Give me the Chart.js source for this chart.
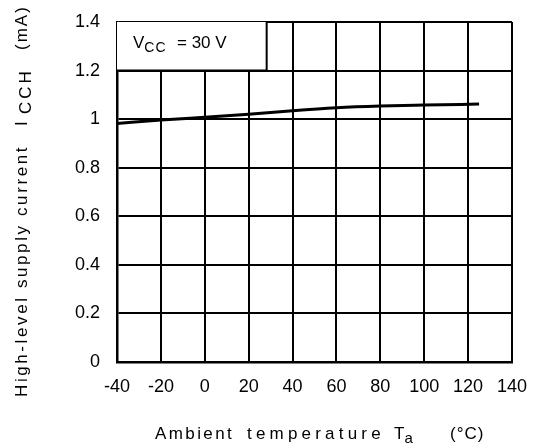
<!DOCTYPE html>
<html>
<head>
<meta charset="utf-8">
<script src="https://cdn.jsdelivr.net/npm/chart.js@4/dist/chart.umd.min.js"></script>
<style>
    body { margin: 0; background: #fff; }
    #wrap { width: 539px; height: 448px; }
</style>
</head>
<body>
<div id="wrap"><canvas id="grafico" width="539" height="448"></canvas></div>
<script>
// datos
var temperaturas = [-40, -20, 0, 20, 40, 60, 80, 100, 125];
var corriente = [0.982, 0.996, 1.008, 1.02, 1.035, 1.047, 1.054, 1.058, 1.062];
var ticksX = [-40, -20, 0, 20, 40, 60, 80, 100, 120, 140];
var ticksY = [0, 0.2, 0.4, 0.6, 0.8, 1, 1.2, 1.4];

var fuente = '"Liberation Sans", Arial, sans-serif';

// dibuja un texto con partes en subindice, devuelve x final
function textoPartes(ctx, partes, x, y) {
    partes.forEach(function (p) {
        if (p.at !== undefined) x = p.at;
        ctx.font = p.size + 'px ' + fuente;
        ctx.letterSpacing = (p.sp || 0) + 'px';
        ctx.fillText(p.t, x, y + (p.dy || 0));
        x += ctx.measureText(p.t).width + (p.gap || 0);
    });
    return x;
}

var titulos = {
    id: 'titulos',
    beforeDatasetsDraw: function (chart) {
        var ctx = chart.ctx;
        var a = chart.chartArea;
        var xs = chart.scales.x, ys = chart.scales.y;
        // caja de condicion
        var bx = xs.getPixelForValue(28.2);
        var by = ys.getPixelForValue(1.2);
        ctx.save();
        ctx.fillStyle = '#fff';
        ctx.fillRect(a.left, a.top, bx - a.left, by - a.top);
        ctx.strokeStyle = '#000';
        ctx.lineWidth = 2;
        ctx.beginPath();
        ctx.moveTo(bx, a.top);
        ctx.lineTo(bx, by);
        ctx.lineTo(a.left, by);
        ctx.stroke();
        ctx.restore();
    },
    afterDraw: function (chart) {
        var ctx = chart.ctx;
        ctx.save();
        ctx.fillStyle = '#000';
        ctx.textBaseline = 'alphabetic';
        ctx.textAlign = 'left';

        textoPartes(ctx, [
            { t: 'V', size: 17 },
            { t: 'CC', size: 14, sp: 1, dy: 4 },
            { t: '= 30 V', size: 17, at: 177 }
        ], 133, 48);

        textoPartes(ctx, [
            { t: 'Ambient', size: 17, sp: 2.4 },
            { t: 'temperature', size: 17, sp: 4.2, at: 247 },
            { t: 'T', size: 17, at: 394 },
            { t: 'a', size: 15, dy: 4 },
            { t: '(\u00B0C)', size: 17, sp: 1, at: 450 }
        ], 155, 439);

        ctx.translate(27, 397);
        ctx.rotate(-Math.PI / 2);
        textoPartes(ctx, [
            { t: 'High-level supply current', size: 17, sp: 2.6 },
            { t: 'I', size: 17, at: 271 },
            { t: 'CCH', size: 17, sp: 3, dy: 4, at: 283 },
            { t: '(mA)', size: 17, sp: 2, at: 347 }
        ], 0, 0);
        ctx.restore();
    }
};

new Chart(document.getElementById('grafico'), {
    type: 'line',
    data: {
        datasets: [{
            data: temperaturas.map(function (t, i) { return { x: t, y: corriente[i] }; }),
            borderColor: '#000',
            borderWidth: 3,
            pointRadius: 0,
            cubicInterpolationMode: 'monotone',
            fill: false
        }]
    },
    options: {
        responsive: false,
        animation: false,
        layout: { padding: { left: 0, top: 22, right: 27, bottom: 0 } },
        plugins: { legend: { display: false }, tooltip: { enabled: false } },
        scales: {
            x: {
                type: 'linear',
                min: -40,
                max: 140,
                afterBuildTicks: function (s) { s.ticks = ticksX.map(function (v) { return { value: v }; }); },
                afterFit: function (s) { s.height = 86; s.paddingLeft = 0; s.paddingRight = 0; },
                grid: { color: '#000', lineWidth: 2, drawTicks: false },
                border: { color: '#000', width: 2.5 },
                ticks: { color: '#000', padding: 14, font: { family: fuente, size: 18 }, maxRotation: 0 }
            },
            y: {
                min: 0,
                max: 1.4,
                afterBuildTicks: function (s) { s.ticks = ticksY.map(function (v) { return { value: v }; }); },
                afterFit: function (s) { s.width = 117; s.paddingTop = 0; s.paddingBottom = 0; },
                grid: { color: '#000', lineWidth: 2, drawTicks: false },
                border: { color: '#000', width: 2.5 },
                ticks: {
                    color: '#000', padding: 17, font: { family: fuente, size: 18 },
                    callback: function (v) { return String(Math.round(v * 10) / 10); }
                }
            }
        }
    },
    plugins: [titulos]
});
</script>
</body>
</html>
